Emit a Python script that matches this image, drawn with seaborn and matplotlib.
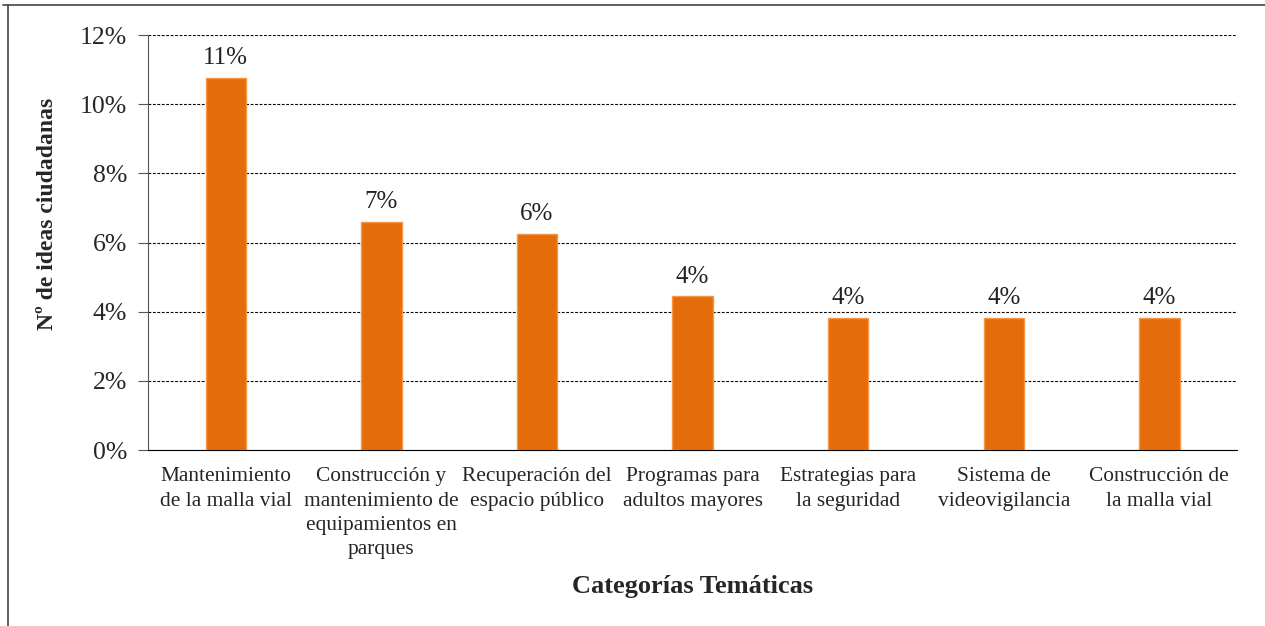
import matplotlib
matplotlib.use("Agg")
import matplotlib.pyplot as plt
import seaborn as sns
import pandas as pd
from matplotlib.lines import Line2D
from matplotlib.ticker import FuncFormatter, MultipleLocator

# Categorías temáticas y porcentaje de ideas ciudadanas
categorias = [
    "Mantenimiento\nde la malla vial",
    "Construcción y\nmantenimiento de\nequipamientos en\nparques",
    "Recuperación del\nespacio público",
    "Programas para\nadultos mayores",
    "Estrategias para\nla seguridad",
    "Sistema de\nvideovigilancia",
    "Construcción de\nla malla vial",
]
porcentajes = [10.76, 6.60, 6.25, 4.45, 3.82, 3.82, 3.82]

df = pd.DataFrame({"Categoria": categorias, "Porcentaje": porcentajes})

sns.set_style("white")
plt.rcParams["font.family"] = ["Liberation Serif", "DejaVu Serif"]

fig = plt.figure(figsize=(12.65, 6.26), dpi=100)
ax = fig.add_axes([0.117, 0.281, 0.861, 0.663])

sns.barplot(
    data=df, x="Categoria", y="Porcentaje", ax=ax,
    color="#E46C0A", edgecolor="#F79646", linewidth=1,
    width=0.26, saturation=1,
)

# etiquetas de valor sobre cada barra
for i, v in enumerate(df["Porcentaje"]):
    ax.text(i, v + 0.25, f"{v:.0f}%", ha="center", va="bottom", fontsize=18, color="#222222")

ax.set_ylim(0, 12)
ax.yaxis.set_major_locator(MultipleLocator(2))
ax.yaxis.set_major_formatter(FuncFormatter(lambda y, _: f"{y:.0f}%"))
ax.grid(axis="y", linestyle=(0, (2.5, 1.5)), color="black", linewidth=0.8)
ax.set_axisbelow(True)

for s in ["top", "right"]:
    ax.spines[s].set_visible(False)
ax.spines["left"].set_color("#555555")
ax.spines["bottom"].set_color("black")
ax.tick_params(axis="y", left=True, length=7, direction="out", color="#555555",
               labelsize=18.5, pad=8)
ax.tick_params(axis="x", bottom=False, labelsize=15.4, pad=9)
for lbl in ax.get_xticklabels():
    lbl.set_linespacing(1.38)

ax.set_xlabel("Categorías Temáticas", fontsize=19, fontweight="bold", labelpad=11)
ax.set_ylabel("Nº de ideas ciudadanas", fontsize=17, fontweight="bold")
ax.yaxis.set_label_coords(-0.083, 0.569)

# marco del gráfico
fig.add_artist(Line2D([3 / 1265, 1], [1 - 5 / 626, 1 - 5 / 626], color="#444444", lw=1.2))
fig.add_artist(Line2D([8 / 1265, 8 / 1265], [0, 1 - 5 / 626], color="#444444", lw=1.2))

fig.savefig("out.png", dpi=100)
